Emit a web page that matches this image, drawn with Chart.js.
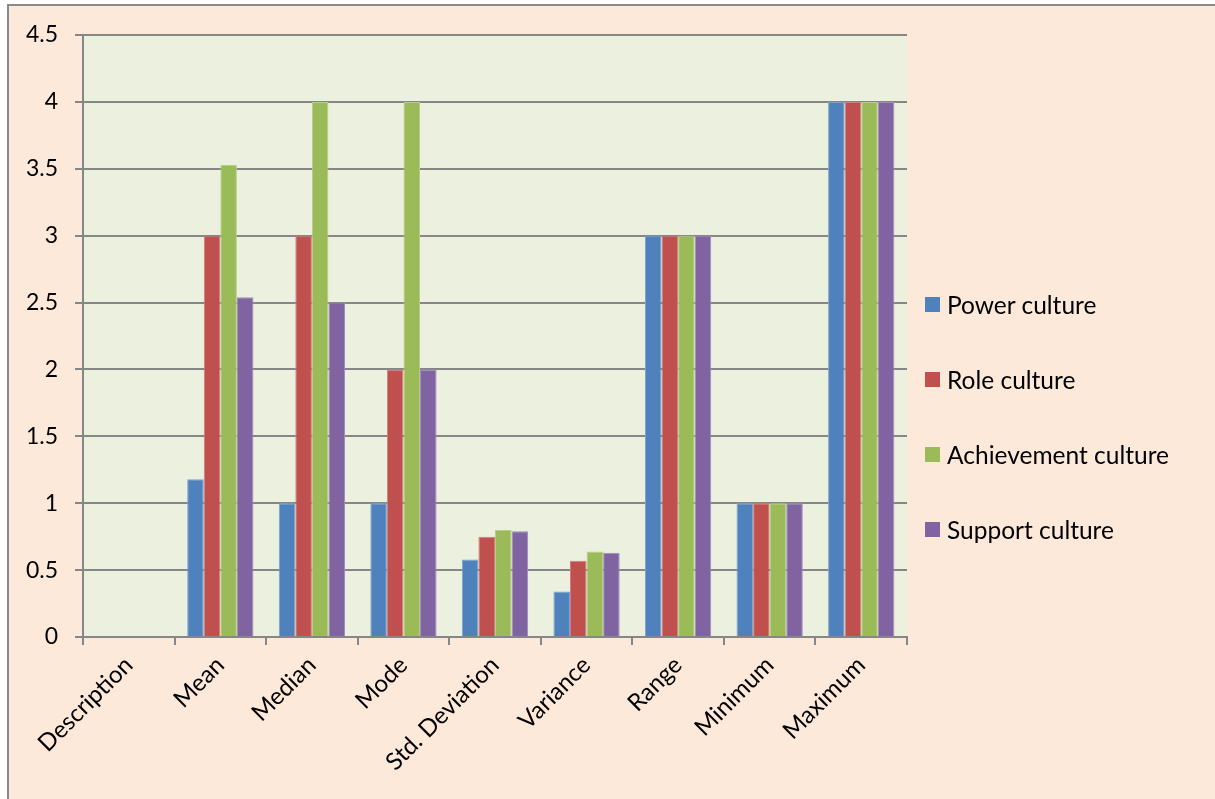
<!DOCTYPE html>
<html>
<head>
<meta charset="utf-8">
<script src="https://cdn.jsdelivr.net/npm/chart.js@4/dist/chart.umd.min.js"></script>
<style>
  html, body { margin: 0; padding: 0; background: #ffffff; overflow: hidden; width: 1215px; height: 799px; }
  #frame {
    position: absolute; left: 7px; top: 4px; width: 1240px; height: 830px;
    background: #FDE9D9; border-left: 2px solid #8a8a8a; border-top: 2px solid #8a8a8a;
  }
  #chart { position: absolute; left: 0; top: 0; }
  #legend { position: absolute; left: 925px; top: 0; font-family: Lato, "Open Sans", sans-serif; font-size: 24.5px; color: #000; }
  .item { position: absolute; left: 0; white-space: nowrap; display: flex; align-items: center; }
  .swatch { width: 15px; height: 15px; margin-right: 7px; }
</style>
</head>
<body>
<div id="frame"></div>
<canvas id="chart" width="1215" height="799"></canvas>
<div id="legend"></div>
<script>
// Descriptive statistics per organisational culture type
const categories = ['Description', 'Mean', 'Median', 'Mode', 'Std. Deviation', 'Variance', 'Range', 'Minimum', 'Maximum'];
const seriesNames = ['Power culture', 'Role culture', 'Achievement culture', 'Support culture'];
const powerCulture       = [null, 1.18, 1, 1, 0.58, 0.34, 3, 1, 4];
const roleCulture        = [null, 3,    3, 2, 0.75, 0.57, 3, 1, 4];
const achievementCulture = [null, 3.53, 4, 4, 0.80, 0.64, 3, 1, 4];
const supportCulture     = [null, 2.54, 2.5, 2, 0.79, 0.63, 3, 1, 4];
const yTicks = [0, 0.5, 1, 1.5, 2, 2.5, 3, 3.5, 4, 4.5];

const fills   = ['#4F81BD', '#C0504D', '#9BBB59', '#8064A2'];
const borders = ['#7DA1CF', '#D27E7C', '#B5CE85', '#A08BC0'];
const values  = [powerCulture, roleCulture, achievementCulture, supportCulture];

const plotBackground = {
  id: 'plotBackground',
  beforeDraw(chart) {
    const { ctx, chartArea: a } = chart;
    ctx.save();
    ctx.fillStyle = '#EBF1DE';
    ctx.fillRect(a.left, a.top, a.right - a.left, a.bottom - a.top);
    ctx.restore();
  }
};

const xFont = { family: 'Lato, "Open Sans", sans-serif', size: 24 };
const yFont = { family: 'Lato, "Open Sans", sans-serif', size: 23 };

const chart = new Chart(document.getElementById('chart'), {
  type: 'bar',
  data: {
    labels: categories,
    datasets: seriesNames.map((name, i) => ({
      label: name,
      data: values[i],
      backgroundColor: fills[i],
      borderColor: borders[i],
      borderWidth: 1,
      categoryPercentage: 0.724,
      barPercentage: 1
    }))
  },
  options: {
    responsive: false,
    animation: false,
    layout: { padding: { top: 35, right: 308, left: 0, bottom: 0 } },
    plugins: { legend: { display: false }, tooltip: { enabled: false } },
    scales: {
      x: {
        grid: { drawOnChartArea: false, drawTicks: true, tickLength: 8, color: '#868686', lineWidth: 2, offset: true },
        border: { color: '#868686', width: 2 },
        ticks: { color: '#000', font: xFont, minRotation: 45, maxRotation: 45, padding: 6, autoSkip: false },
        afterFit(scale) { scale.height = 162; }
      },
      y: {
        min: 0, max: 4.5,
        afterBuildTicks(scale) { scale.ticks = yTicks.map(v => ({ value: v })); },
        grid: { color: '#868686', lineWidth: 2, tickLength: 8 },
        border: { color: '#868686', width: 2 },
        ticks: { color: '#000', font: yFont, padding: 17, callback: v => String(v) },
        afterFit(scale) { scale.width = 83; }
      }
    }
  },
  plugins: [plotBackground]
});

// Legend built from the chart's datasets
const legendTops = [304, 379, 454, 529];
const legend = document.getElementById('legend');
chart.data.datasets.forEach((ds, i) => {
  const item = document.createElement('div');
  item.className = 'item';
  item.style.top = (legendTops[i] - 16) + 'px';
  item.style.height = '32px';
  const sw = document.createElement('span');
  sw.className = 'swatch';
  sw.style.background = ds.backgroundColor;
  const tx = document.createElement('span');
  tx.textContent = ds.label;
  item.appendChild(sw);
  item.appendChild(tx);
  legend.appendChild(item);
});
</script>
</body>
</html>
